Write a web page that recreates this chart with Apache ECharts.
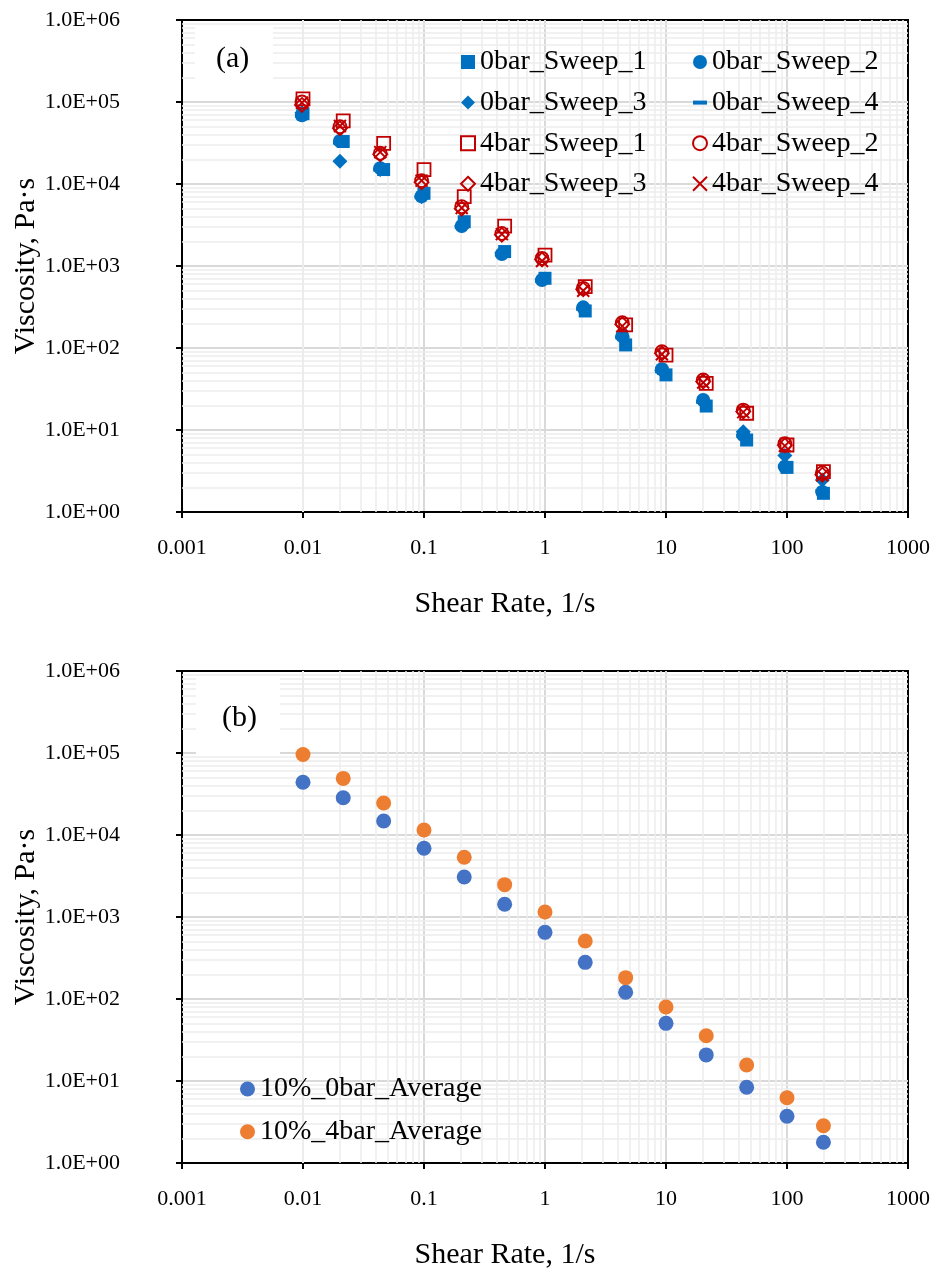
<!DOCTYPE html>
<html>
<head>
<meta charset="utf-8">
<script src="https://cdn.jsdelivr.net/npm/echarts@6/dist/echarts.min.js"></script>
<style>
html,body{margin:0;padding:0;background:#fff;}
#chart{width:943px;height:1268px;}
</style>
</head>
<body>
<div id="chart"></div>
<script>
// ---------- DATA ----------
// Shear rates (1/s)
const shearNominal = [0.01, 0.0215, 0.0464, 0.1, 0.215, 0.464, 1, 2.15, 4.64, 10, 21.5, 46.4, 100, 200];
const shearSweeps234 = [0.0098, 0.0202, 0.0435, 0.0955, 0.205, 0.44, 0.945, 2.07, 4.35, 9.25, 20.3, 43.5, 96, 196];

// Panel (a) viscosities (Pa·s)
const bar0Sweep1 = [7.2e4, 3.3e4, 1.5e4, 7.7e3, 3.47e3, 1.5e3, 708, 283, 109, 47, 19.6, 7.55, 3.5, 1.69];
const bar0Sweep2 = [6.9e4, 3.34e4, 1.56e4, 7.1e3, 3.07e3, 1.4e3, 675, 313, 140, 55, 23.2, 8.7, 3.57, 1.75];
const bar0Sweep3 = [7.4e4, 1.9e4, 1.5e4, 7.0e3, 3.1e3, 1.45e3, 690, 300, 135, 53, 22, 9.5, 4.9, 2.45];
const bar0Sweep4 = [6.8e4, 3.2e4, 1.5e4, 6.9e3, 3.0e3, 1.38e3, 660, 300, 135, 52, 22, 8.5, 3.6, 1.8];
const bar4Sweep1 = [1.09e5, 5.9e4, 3.13e4, 1.5e4, 7.0e3, 3.07e3, 1.36e3, 560, 191, 82, 37, 16, 6.56, 3.1];
const bar4Sweep2 = [1.0e5, 5.0e4, 2.37e4, 1.1e4, 5.3e3, 2.5e3, 1.24e3, 535, 204, 90, 40.7, 17.5, 6.8, 3.0];
const bar4Sweep3 = [9.2e4, 4.8e4, 2.3e4, 1.05e4, 5.0e3, 2.4e3, 1.2e3, 520, 195, 86, 39, 16.8, 6.5, 2.85];
const bar4Sweep4 = [9.8e4, 5.1e4, 2.45e4, 1.1e4, 5.1e3, 2.45e3, 1.15e3, 500, 185, 84, 38, 16.5, 6.4, 2.8];

// Panel (b) averages
const avg0bar = [4.4e4, 2.85e4, 1.48e4, 6.9e3, 3.07e3, 1.43e3, 650, 280, 121, 50.5, 20.8, 8.4, 3.71, 1.79];
const avg4bar = [9.6e4, 4.9e4, 2.46e4, 1.15e4, 5.35e3, 2.48e3, 1150, 510, 182, 80, 35.7, 15.7, 6.26, 2.85];

// Axis ranges / gridline multipliers
const xDecades = [0.001, 0.01, 0.1, 1, 10, 100];
const yDecades = [1, 10, 100, 1000, 10000, 100000];
const minorMults = [2, 3, 4, 5, 6, 7, 8, 9];

// ---------- STYLE ----------
const FONT = 'Liberation Serif';
const BLUE = '#0070C0', RED = '#C00000';
const BLUE_B = '#4472C4', ORANGE_B = '#ED7D31';
const XPATH = 'path://M0,0L10,10M10,0L0,10';
const DASHPATH = 'path://M0,0H14V4H0Z';

function pairs(xs, ys) { return xs.map((x, i) => [x, ys[i]]); }
function minorVals(decs) { const out = []; decs.forEach(d => minorMults.forEach(m => out.push(d * m))); return out; }
function yFmt(v) {
  const e = Math.round(Math.log10(v));
  return '1.0E' + (e >= 0 ? '+' : '-') + String(Math.abs(e)).padStart(2, '0');
}
function xFmt(v) { return String(parseFloat(Number(v).toPrecision(6))); }

const minorLines = [].concat(
  minorVals(xDecades).map(v => ({ xAxis: v })),
  minorVals(yDecades).map(v => ({ yAxis: v }))
);
const minorMarkLine = {
  silent: true, symbol: 'none', z: 1, animation: false,
  label: { show: false },
  lineStyle: { color: '#ececec', width: 1.5, type: 'solid' },
  emphasis: { disabled: true },
  data: minorLines
};

function xAxisCfg(gi) {
  return {
    gridIndex: gi, type: 'log', logBase: 10, min: 0.001, max: 1000, splitNumber: 6,
    name: 'Shear Rate, 1/s', nameLocation: 'middle', nameGap: 77, nameMoveOverlap: false,
    nameTextStyle: { fontFamily: FONT, fontSize: 30, color: '#000', padding: [0, 80, 0, 0] },
    axisLine: { show: true, lineStyle: { color: '#000', width: 2 } },
    axisTick: { show: true, inside: false, length: 6, lineStyle: { color: '#000', width: 2 } },
    minorTick: { show: false },
    axisLabel: { fontFamily: FONT, fontSize: 22, color: '#000', margin: 25, formatter: xFmt },
    splitLine: { show: true, showMinLine: false, showMaxLine: false, lineStyle: { color: '#d9d9d9', width: 2 } }
  };
}
function yAxisCfg(gi) {
  return {
    gridIndex: gi, type: 'log', logBase: 10, min: 1, max: 1e6, splitNumber: 6,
    name: 'Viscosity, Pa·s', nameLocation: 'middle', nameGap: 141, nameRotate: 90, nameMoveOverlap: false,
    nameTextStyle: { fontFamily: FONT, fontSize: 30, color: '#000' },
    axisLine: { show: true, lineStyle: { color: '#000', width: 2 } },
    axisTick: { show: true, inside: false, length: 6, lineStyle: { color: '#000', width: 2 } },
    minorTick: { show: false },
    axisLabel: { fontFamily: FONT, fontSize: 22, color: '#000', margin: 62, formatter: yFmt },
    splitLine: { show: true, showMinLine: false, showMaxLine: false, lineStyle: { color: '#d9d9d9', width: 2 } }
  };
}

function filled(name, xs, ys, symbol, size, color, gi, extra) {
  return Object.assign({
    name, type: 'scatter', xAxisIndex: gi, yAxisIndex: gi, z: 3,
    symbol, symbolSize: size, data: pairs(xs, ys),
    itemStyle: { color: color, opacity: 1 },
    emphasis: { disabled: true }, animation: false
  }, extra || {});
}
function hollow(name, xs, ys, symbol, size, color, gi, bw) {
  return {
    name, type: 'scatter', xAxisIndex: gi, yAxisIndex: gi, z: 4,
    symbol, symbolSize: size, data: pairs(xs, ys),
    itemStyle: { color: 'rgba(255,255,255,0)', borderColor: color, borderWidth: bw, opacity: 1 },
    emphasis: { disabled: true }, animation: false
  };
}

const legendText = { fontFamily: FONT, fontSize: 28, color: '#000', lineHeight: 30 };

const option = {
  backgroundColor: '#fff',
  animation: false,
  grid: [
    { left: 182, top: 20, width: 726, height: 492, containLabel: false, outerBoundsMode: 'none', show: true, borderColor: '#000', borderWidth: 2, backgroundColor: '#fff' },
    { left: 182, top: 671, width: 726, height: 492, containLabel: false, outerBoundsMode: 'none', show: true, borderColor: '#000', borderWidth: 2, backgroundColor: '#fff' }
  ],
  xAxis: [xAxisCfg(0), xAxisCfg(1)],
  yAxis: [yAxisCfg(0), yAxisCfg(1)],
  legend: [
    {
      orient: 'vertical', left: 455, top: 42, padding: 5, itemGap: 10.6, itemWidth: 14, itemHeight: 14,
      textStyle: legendText, selectedMode: false,
      data: [
        { name: '0bar_Sweep_1', icon: 'rect', itemStyle: { color: BLUE } },
        { name: '0bar_Sweep_3', icon: 'diamond', itemStyle: { color: BLUE } },
        { name: '4bar_Sweep_1', icon: 'rect', itemStyle: { color: 'rgba(255,255,255,0)', borderColor: RED, borderWidth: 2 } },
        { name: '4bar_Sweep_3', icon: 'diamond', itemStyle: { color: 'rgba(255,255,255,0)', borderColor: RED, borderWidth: 2 } }
      ]
    },
    {
      orient: 'vertical', left: 687, top: 42, padding: 5, itemGap: 10.6, itemWidth: 14, itemHeight: 14,
      textStyle: legendText, selectedMode: false,
      data: [
        { name: '0bar_Sweep_2', icon: 'circle', itemStyle: { color: BLUE } },
        { name: '0bar_Sweep_4', icon: DASHPATH, itemStyle: { color: BLUE } },
        { name: '4bar_Sweep_2', icon: 'circle', itemStyle: { color: 'rgba(255,255,255,0)', borderColor: RED, borderWidth: 2 } },
        { name: '4bar_Sweep_4', icon: XPATH, itemStyle: { color: 'rgba(255,255,255,0)', borderColor: RED, borderWidth: 2 } }
      ]
    },
    {
      orient: 'vertical', left: 235, top: 1069, padding: 5, itemGap: 12.7, itemWidth: 15, itemHeight: 15,
      textStyle: legendText, selectedMode: false,
      data: [
        { name: '10%_0bar_Average', icon: 'circle', itemStyle: { color: BLUE_B } },
        { name: '10%_4bar_Average', icon: 'circle', itemStyle: { color: ORANGE_B } }
      ]
    }
  ],
  graphic: [
    { type: 'rect', left: 195, top: 25, shape: { width: 78, height: 70 }, style: { fill: '#fff' }, z: 10 },
    { type: 'text', left: 216, top: 44, style: { text: '(a)', font: '30px "Liberation Serif"', fill: '#000' }, z: 11 },
    { type: 'rect', left: 196, top: 676, shape: { width: 84, height: 80 }, style: { fill: '#fff' }, z: 10 },
    { type: 'text', left: 222, top: 703, style: { text: '(b)', font: '30px "Liberation Serif"', fill: '#000' }, z: 11 }
  ],
  series: [
    filled('0bar_Sweep_1', shearNominal, bar0Sweep1, 'rect', 13, BLUE, 0, { markLine: minorMarkLine }),
    filled('0bar_Sweep_2', shearSweeps234, bar0Sweep2, 'circle', 14, BLUE, 0),
    filled('0bar_Sweep_3', shearSweeps234, bar0Sweep3, 'diamond', 15, BLUE, 0),
    filled('0bar_Sweep_4', shearSweeps234, bar0Sweep4, DASHPATH, [14, 4], BLUE, 0),
    hollow('4bar_Sweep_1', shearNominal, bar4Sweep1, 'rect', 13, RED, 0, 1.8),
    hollow('4bar_Sweep_2', shearSweeps234, bar4Sweep2, 'circle', 13, RED, 0, 1.8),
    hollow('4bar_Sweep_3', shearSweeps234, bar4Sweep3, 'diamond', 14, RED, 0, 1.8),
    hollow('4bar_Sweep_4', shearSweeps234, bar4Sweep4, XPATH, 12, RED, 0, 2),
    filled('10%_0bar_Average', shearNominal, avg0bar, 'circle', 15, BLUE_B, 1, { markLine: minorMarkLine }),
    filled('10%_4bar_Average', shearNominal, avg4bar, 'circle', 15, ORANGE_B, 1)
  ]
};

const chart = echarts.init(document.getElementById('chart'), null, { renderer: 'canvas' });
chart.setOption(option);
</script>
</body>
</html>
